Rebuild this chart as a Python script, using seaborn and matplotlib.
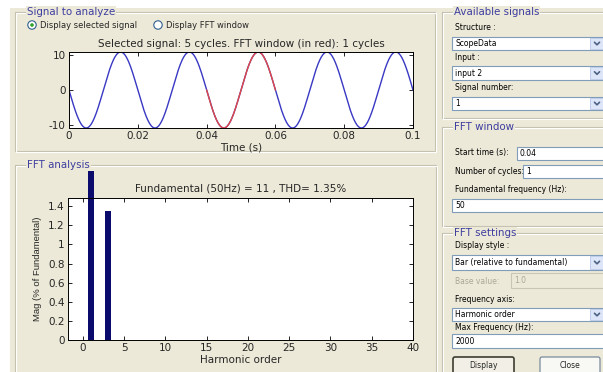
import numpy as np
import matplotlib
matplotlib.use("Agg")
import matplotlib.pyplot as plt
from matplotlib.patches import Rectangle, Circle, FancyBboxPatch
import seaborn as sns

# ---------------- data ----------------
SIGNAL_AMPLITUDE = 11.0          # Fundamental (50Hz) = 11
FUNDAMENTAL_HZ = 50.0
SIGNAL_CYCLES = 5
FFT_START_S = 0.04
FFT_CYCLES = 1

harmonic_order = [1, 3]
harmonic_mag = [100.0, 1.35]     # % of fundamental
THD_PCT = 1.35

time_ticks = [0, 0.02, 0.04, 0.06, 0.08, 0.1]
time_tick_labels = ["0", "0.02", "0.04", "0.06", "0.08", "0.1"]
signal_ticks = [-10, 0, 10]
signal_tick_labels = ["-10", "0", "10"]
harm_ticks = [0, 5, 10, 15, 20, 25, 30, 35, 40]
harm_tick_labels = ["0", "5", "10", "15", "20", "25", "30", "35", "40"]
mag_ticks = [0, 0.2, 0.4, 0.6, 0.8, 1.0, 1.2, 1.4]
mag_tick_labels = ["0", "0.2", "0.4", "0.6", "0.8", "1", "1.2", "1.4"]

# ---------------- style ----------------
sns.set_style("ticks")
plt.rcParams["font.family"] = ["DejaVu Sans"]

W, H = 603, 372
BG = "#ECE9D8"
TITLE_BLUE = "#3D3DA0"
SIG_BLUE = "#3838C4"
SIG_RED = "#E04848"
BAR_NAVY = "#0B0B6E"
FIELD_BORDER = "#7F9DB9"
FS_PLOT = 7.5
FS_RADIO = 6.0
FS_GUI = 5.5
FS_PANEL = 7.4

fig = plt.figure(figsize=(W / 100, H / 100), dpi=100)
fig.patch.set_facecolor(BG)


def rect(x0, y0, x1, y1):
    return [x0 / W, 1 - y1 / H, (x1 - x0) / W, (y1 - y0) / H]


# background / GUI layer in pixel coordinates
bg = fig.add_axes([0, 0, 1, 1])
bg.set_xlim(0, W)
bg.set_ylim(H, 0)
bg.axis("off")
bg.set_zorder(0)

bg.add_patch(Rectangle((0, 0), W, 8, facecolor="white", edgecolor="none"))
bg.add_patch(Rectangle((0, 0), 10, H, facecolor="white", edgecolor="none"))


def etched_frame(x0, y0, x1, y1, title):
    bg.add_patch(Rectangle((x0, y0), x1 - x0, y1 - y0, fill=False,
                           edgecolor="#C2BFAE", lw=0.8))
    bg.add_patch(Rectangle((x0 + 1, y0 + 1), x1 - x0, y1 - y0, fill=False,
                           edgecolor="white", lw=0.8))
    bg.text(x0 + 12, y0, title, color=TITLE_BLUE, fontsize=FS_PANEL,
            ha="left", va="center",
            bbox=dict(facecolor=BG, edgecolor="none", pad=0.6))


etched_frame(15, 12, 435, 151, "Signal to analyze")
etched_frame(15, 165, 436, 400, "FFT analysis")
etched_frame(442, 12, 640, 118, "Available signals")
etched_frame(442, 127, 640, 226, "FFT window")
etched_frame(442, 233, 640, 400, "FFT settings")

# radio buttons
for cx, label_txt, sel in [(32, "Display selected signal", True),
                           (158, "Display FFT window", False)]:
    bg.add_patch(Circle((cx, 25), 4.2, facecolor="white",
                        edgecolor="#2F5F8F", lw=0.8))
    if sel:
        bg.add_patch(Circle((cx, 25), 1.8, facecolor="#2FA02F",
                            edgecolor="none"))
    bg.text(cx + 8, 25, label_txt, fontsize=FS_RADIO, ha="left", va="center")


def label(x, y, s, color="black"):
    bg.text(x, y, s, fontsize=FS_GUI, ha="left", va="center", color=color)


def field(x0, y0, x1, y1, s, border=FIELD_BORDER, face="white",
          color="black", combo=False):
    bg.add_patch(Rectangle((x0, y0), x1 - x0, y1 - y0, facecolor=face,
                           edgecolor=border, lw=0.8))
    bg.text(x0 + 3, (y0 + y1) / 2, s, fontsize=FS_GUI, ha="left",
            va="center", color=color)
    if combo:
        bg.add_patch(Rectangle((590, y0 + 1), 14, y1 - y0 - 2,
                               facecolor="#DCE6F8", edgecolor="#B8C8E8",
                               lw=0.6))
        ym = (y0 + y1) / 2
        bg.plot([594.5, 597, 599.5], [ym - 1.2, ym + 1.3, ym - 1.2],
                color="#4D6185", lw=1.2)


label(455, 28, "Structure :")
field(452, 37, 640, 50, "ScopeData", combo=True)
label(455, 58, "Input :")
field(452, 66, 640, 80, "input 2", combo=True)
label(455, 88, "Signal number:")
field(452, 97, 640, 110, "1", combo=True)

label(455, 153, "Start time (s):")
field(517, 147, 640, 160, "0.04")
label(455, 172, "Number of cycles:")
field(523, 165, 640, 178, "1")
label(455, 190, "Fundamental frequency (Hz):")
field(452, 199, 640, 212, "50")

label(455, 246, "Display style :")
field(452, 255, 640, 270, "Bar (relative to fundamental)", combo=True)
label(455, 281, "Base value:", color="#ACA899")
field(511, 273, 640, 288, "1.0", border="#C9C6B5", face=BG,
      color="#ACA899")
label(455, 300, "Frequency axis:")
field(452, 308, 640, 321, "Harmonic order", combo=True)
label(455, 327, "Max Frequency (Hz):")
field(452, 334, 640, 348, "2000")

bg.add_patch(FancyBboxPatch((453, 357), 61, 20,
                            boxstyle="round,pad=0,rounding_size=2",
                            facecolor="#F2F0E6", edgecolor="#3C3C30", lw=1.2))
bg.text(483.5, 366, "Display", fontsize=FS_GUI, ha="center", va="center")
bg.add_patch(FancyBboxPatch((540, 357), 60, 20,
                            boxstyle="round,pad=0,rounding_size=2",
                            facecolor="#F8F8F4", edgecolor="#7A8A9C", lw=0.9))
bg.text(570, 366, "Close", fontsize=FS_GUI, ha="center", va="center")

# ---------------- top plot: signal ----------------
ax1 = fig.add_axes(rect(69, 52, 413, 128))
t = np.linspace(0, SIGNAL_CYCLES / FUNDAMENTAL_HZ, 1001)
v = -SIGNAL_AMPLITUDE * np.sin(2 * np.pi * FUNDAMENTAL_HZ * t)
win = (t >= FFT_START_S - 1e-12) & (t <= FFT_START_S + FFT_CYCLES / FUNDAMENTAL_HZ + 1e-12)
sns.lineplot(x=t, y=v, ax=ax1, color=SIG_BLUE, lw=1.0)
sns.lineplot(x=t[win], y=v[win], ax=ax1, color=SIG_RED, lw=1.0)
ax1.set_xlim(0, 0.1)
ax1.set_ylim(-SIGNAL_AMPLITUDE, SIGNAL_AMPLITUDE)
ax1.set_xticks(time_ticks, time_tick_labels)
ax1.set_yticks(signal_ticks, signal_tick_labels)
ax1.set_title(f"Selected signal: {SIGNAL_CYCLES} cycles. FFT window (in red): "
              f"{FFT_CYCLES} cycles", fontsize=FS_PLOT, pad=3.5)
ax1.set_xlabel("Time (s)", fontsize=FS_PLOT, labelpad=1)
ax1.set_ylabel("")

# ---------------- bottom plot: harmonics ----------------
ax2 = fig.add_axes(rect(68, 198, 413, 340))
sns.barplot(x=harmonic_order, y=harmonic_mag, native_scale=True, ax=ax2,
            color=BAR_NAVY, saturation=1, errorbar=None)
clip = Rectangle((0, 171), W, 400, transform=bg.transData)
for p in ax2.patches:
    c = p.get_x() + p.get_width() / 2
    p.set_x(c - 0.35)
    p.set_width(0.7)
    p.set_edgecolor("none")
    p.set_clip_path(clip)
ax2.set_xlim(-1.8, 40)
ax2.set_ylim(0, 1.1 * max(harmonic_mag[1:]))
ax2.set_xticks(harm_ticks, harm_tick_labels)
ax2.set_yticks(mag_ticks, mag_tick_labels)
ax2.set_title(f"Fundamental ({FUNDAMENTAL_HZ:g}Hz) = {SIGNAL_AMPLITUDE:g} , "
              f"THD= {THD_PCT}%", fontsize=FS_PLOT, pad=5)
ax2.set_xlabel("Harmonic order", fontsize=FS_PLOT, labelpad=1)
ax2.set_ylabel("Mag (% of Fundamental)", fontsize=6.8,
               family=["Liberation Sans", "DejaVu Sans"], labelpad=4)

for ax in (ax1, ax2):
    ax.set_facecolor("white")
    ax.tick_params(direction="in", top=True, right=True, length=3,
                   width=0.6, labelsize=FS_PLOT, pad=2.5, color="black")
    for s in ax.spines.values():
        s.set_visible(True)
        s.set_color("black")
        s.set_linewidth(0.7)

fig.savefig("out.png", dpi=100, facecolor=fig.get_facecolor())
